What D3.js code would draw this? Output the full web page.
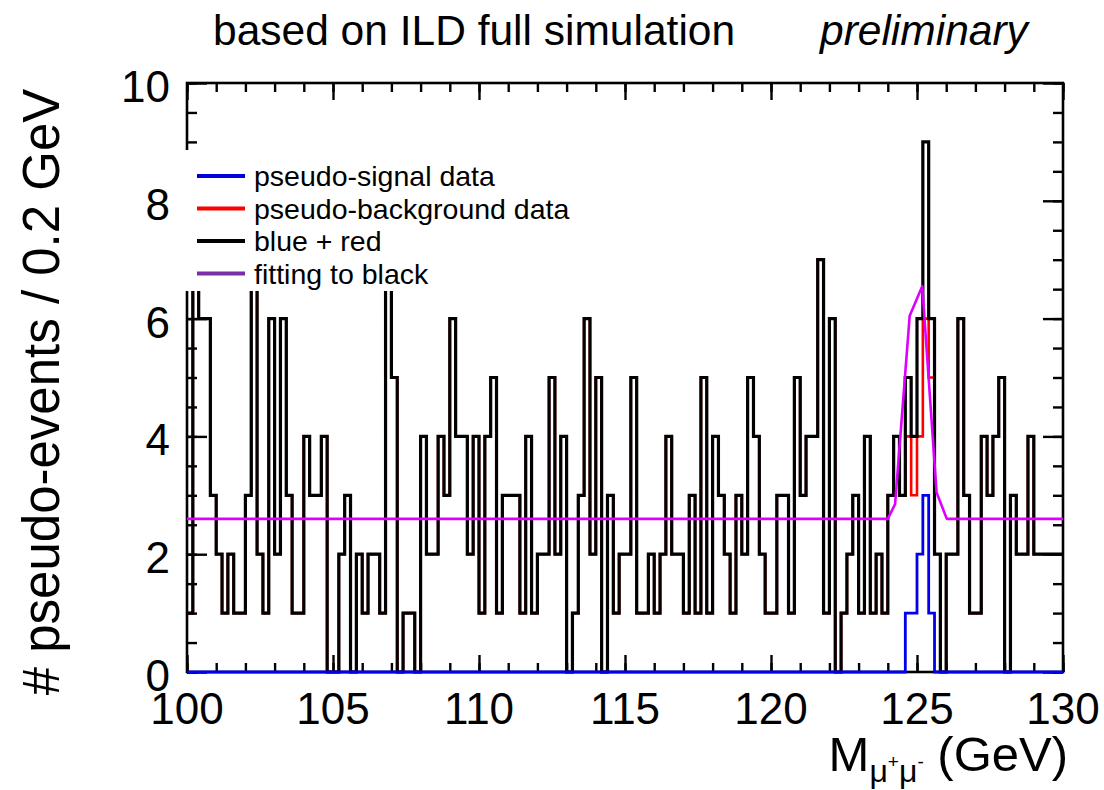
<!DOCTYPE html>
<html>
<head>
<meta charset="utf-8">
<script src="https://cdn.jsdelivr.net/npm/d3@7"></script>
<style>
  body { margin: 0; background: #fff; }
  svg { font-family: "Liberation Sans", Arial, Helvetica, sans-serif; }
</style>
</head>
<body>
<svg id="chart" width="1104" height="790"></svg>
<script>
// histogram: 150 bins of 0.2 GeV from 100 to 130
const massLow = 100, massHigh = 130, binWidth = 0.2;

// pseudo-background counts per bin (red)
const backgroundCounts = [
  1, 7, 6, 6, 3, 2, 1, 2, 1, 1,
  3, 7, 2, 1, 6, 2, 6, 3, 1, 1,
  4, 3, 3, 4, 0, 0, 2, 3, 0, 2,
  1, 2, 2, 1, 7, 5, 0, 1, 1, 0,
  4, 2, 2, 4, 3, 6, 4, 4, 2, 4,
  1, 4, 5, 1, 3, 3, 3, 1, 4, 1,
  2, 2, 5, 2, 4, 0, 1, 3, 6, 2,
  5, 0, 3, 1, 2, 2, 5, 1, 1, 2,
  1, 2, 4, 2, 2, 1, 3, 1, 5, 1,
  4, 3, 2, 1, 3, 2, 5, 4, 2, 1,
  1, 3, 3, 1, 5, 3, 4, 4, 7, 1,
  6, 0, 1, 2, 3, 1, 4, 1, 2, 1,
  3, 4, 3, 4, 3, 4, 6, 5, 2, 0,
  2, 2, 6, 3, 1, 1, 4, 3, 4, 5,
  0, 3, 2, 2, 4, 2, 2, 2, 2, 2
];

// pseudo-signal counts (blue), non-empty bins starting at signalLow
const signalLow = 124.6;
const signalCounts = [1, 1, 2, 3, 1];

// fitted function (magenta), sampled points
const fitMass = [100, 124.0, 124.25, 124.75, 125.18, 125.67, 126.02, 130];
const fitValue = [2.6, 2.6, 2.85, 6.05, 6.55, 3.05, 2.6, 2.6];

const xMajorTicks = [100, 105, 110, 115, 120, 125, 130];
const yMajorTicks = [0, 2, 4, 6, 8, 10];

const legendLabels = ["pseudo-signal data", "pseudo-background data", "blue + red", "fitting to black"];
const legendColors = ["#0000dd", "#ff0000", "#000000", "#7a2fa6"];

const signalStart = Math.round((signalLow - massLow) / binWidth);
const signalFull = backgroundCounts.map((d, i) => {
  const k = i - signalStart;
  return k >= 0 && k < signalCounts.length ? signalCounts[k] : 0;
});
const totalCounts = backgroundCounts.map((d, i) => d + signalFull[i]);

const svg = d3.select("#chart");
const frame = {left: 187, right: 1063, top: 83, bottom: 672};

const x = d3.scaleLinear().domain([massLow, massHigh]).range([frame.left, frame.right]);
const y = d3.scaleLinear().domain([0, 10]).range([frame.bottom, frame.top]);

svg.append("rect").attr("width", 1104).attr("height", 790).attr("fill", "#fff");

// ticks, ROOT style (inside the frame)
const minorX = d3.range(massLow, massHigh + 0.5, 1);
const minorY = d3.range(0, 10.01, 0.5);

function tickGroup(axis, tx, ty) {
  const g = svg.append("g").attr("transform", `translate(${tx},${ty})`).call(axis);
  g.select(".domain").remove();
  g.selectAll("line").attr("stroke", "#000").attr("stroke-width", 2.4);
  return g;
}

tickGroup(d3.axisBottom(x).tickValues(minorX).tickSize(-9).tickFormat(""), 0, frame.bottom);
tickGroup(d3.axisBottom(x).tickValues(xMajorTicks).tickSize(-17).tickFormat(""), 0, frame.bottom);
tickGroup(d3.axisTop(x).tickValues(minorX).tickSize(-9).tickFormat(""), 0, frame.top);
tickGroup(d3.axisTop(x).tickValues(xMajorTicks).tickSize(-17).tickFormat(""), 0, frame.top);
tickGroup(d3.axisLeft(y).tickValues(minorY).tickSize(-10).tickFormat(""), frame.left, 0);
tickGroup(d3.axisLeft(y).tickValues(yMajorTicks).tickSize(-20).tickFormat(""), frame.left, 0);
tickGroup(d3.axisRight(y).tickValues(minorY).tickSize(-10).tickFormat(""), frame.right, 0);
tickGroup(d3.axisRight(y).tickValues(yMajorTicks).tickSize(-20).tickFormat(""), frame.right, 0);

svg.append("rect")
  .attr("x", frame.left).attr("y", frame.top)
  .attr("width", frame.right - frame.left).attr("height", frame.bottom - frame.top)
  .attr("fill", "none").attr("stroke", "#000").attr("stroke-width", 2.6);

// step outlines
const stepLine = d3.line()
  .x(d => x(d[0]))
  .y(d => y(d[1]))
  .curve(d3.curveStepAfter);

function steps(counts) {
  const pts = counts.map((c, i) => [massLow + i * binWidth, c]);
  pts.push([massHigh, counts[counts.length - 1]]);
  return pts;
}

svg.append("path").attr("d", stepLine(steps(backgroundCounts)))
  .attr("fill", "none").attr("stroke", "#ff0000").attr("stroke-width", 2.6);
svg.append("path").attr("d", stepLine(steps(totalCounts)))
  .attr("fill", "none").attr("stroke", "#000").attr("stroke-width", 3.2);
svg.append("path").attr("d", stepLine(steps(signalFull)))
  .attr("fill", "none").attr("stroke", "#0000ee").attr("stroke-width", 2.8);

const fitLine = d3.line().x(d => x(d[0])).y(d => y(d[1]));
svg.append("path").attr("d", fitLine(fitMass.map((m, i) => [m, fitValue[i]])))
  .attr("fill", "none").attr("stroke", "#dd00ff").attr("stroke-width", 2.6)
  .attr("stroke-linejoin", "round");

// legend box (white, covers the histogram behind it)
svg.append("rect").attr("x", 182).attr("y", 150).attr("width", 400).attr("height", 141).attr("fill", "#fff");

const legend = svg.append("g");
legendLabels.forEach((label, i) => {
  const cy = 176 + i * 32.5;
  legend.append("line")
    .attr("x1", 197).attr("x2", 245).attr("y1", cy).attr("y2", cy)
    .attr("stroke", legendColors[i]).attr("stroke-width", 4);
  legend.append("text")
    .attr("x", 254).attr("y", cy + 10)
    .attr("font-size", 28.5).text(label);
});

// tick labels
svg.append("g").selectAll("text").data(xMajorTicks).join("text")
  .attr("x", d => x(d)).attr("y", 724)
  .attr("text-anchor", "middle").attr("font-size", 44)
  .text(d => d);

svg.append("g").selectAll("text").data(yMajorTicks).join("text")
  .attr("x", 170).attr("y", d => y(d) + 19)
  .attr("text-anchor", "end").attr("font-size", 44)
  .text(d => d);

// titles
svg.append("text").attr("x", 213).attr("y", 45).attr("font-size", 42.5)
  .text("based on ILD full simulation");
svg.append("text").attr("x", 820).attr("y", 45).attr("font-size", 42.5)
  .attr("font-style", "italic").text("preliminary");

svg.append("text")
  .attr("transform", "translate(59,392) rotate(-90)")
  .attr("text-anchor", "middle").attr("font-size", 51)
  .text("# pseudo-events / 0.2 GeV");

const xTitle = svg.append("text").attr("x", 1068).attr("y", 771)
  .attr("text-anchor", "end").attr("font-size", 49);
xTitle.append("tspan").text("M");
xTitle.append("tspan").attr("font-size", 32).attr("dy", 11).text("\u03bc");
xTitle.append("tspan").attr("font-size", 19).attr("dy", -14).text("+");
xTitle.append("tspan").attr("font-size", 32).attr("dy", 14).text("\u03bc");
xTitle.append("tspan").attr("font-size", 19).attr("dy", -14).text("-");
xTitle.append("tspan").attr("dy", 3).text(" (GeV)");
</script>
</body>
</html>
